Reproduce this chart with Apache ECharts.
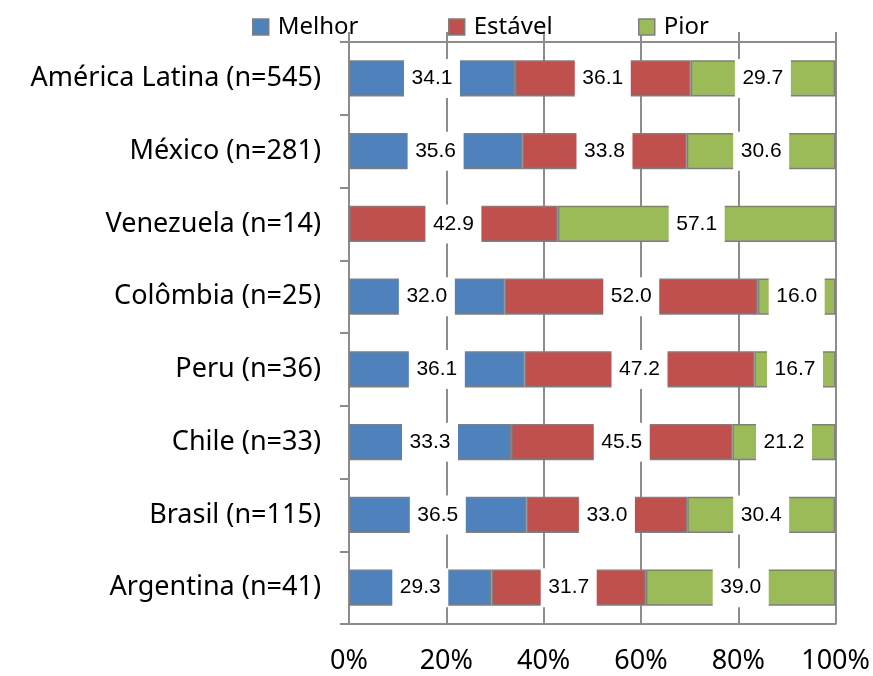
<!DOCTYPE html>
<html>
<head>
<meta charset="utf-8">
<script src="https://cdn.jsdelivr.net/npm/echarts@6/dist/echarts.min.js"></script>
<style>
  html, body { margin: 0; padding: 0; background: #fff; }
  #chart { width: 873px; height: 676px; }
</style>
</head>
<body>
<div id="chart"></div>
<script>
// Percentages per region: better / stable / worse
const categories = [
  'América Latina (n=545)',
  'México (n=281)',
  'Venezuela (n=14)',
  'Colômbia (n=25)',
  'Peru (n=36)',
  'Chile (n=33)',
  'Brasil (n=115)',
  'Argentina (n=41)'
];
const melhor  = [34.1, 35.6, 0,    32.0, 36.1, 33.3, 36.5, 29.3];
const estavel = [36.1, 33.8, 42.9, 52.0, 47.2, 45.5, 33.0, 31.7];
const pior    = [29.7, 30.6, 57.1, 16.0, 16.7, 21.2, 30.4, 39.0];
const seriesNames = ['Melhor', 'Estável', 'Pior'];
const seriesColors = ['#4F81BD', '#C0504D', '#9BBB59'];
const xTicks = [0, 20, 40, 60, 80, 100];

const GRID_GRAY = '#8c8c8c';
const LABEL_FONT = '"Liberation Sans Narrow", "Liberation Sans", sans-serif';
const TEXT_FONT = '"Noto Sans", "Open Sans", sans-serif';

function toItems(arr) {
  return arr.map(v => v === 0 ? { value: v, label: { show: false } } : { value: v });
}

const seriesValues = [melhor, estavel, pior];
const series = seriesNames.map((name, i) => ({
  name,
  type: 'bar',
  stack: 'total',
  barWidth: '50%',
  xAxisIndex: 0,
  data: toItems(seriesValues[i]),
  itemStyle: { color: seriesColors[i], borderColor: '#7f7f7f', borderWidth: 1.5 },
  label: {
    show: true,
    position: 'inside',
    formatter: p => p.value.toFixed(1),
    color: '#000',
    fontFamily: LABEL_FONT,
    fontSize: 21,
    backgroundColor: '#fff',
    width: 56,
    height: 39,
    lineHeight: 39,
    align: 'center',
    verticalAlign: 'middle',
    padding: 0
  },
  emphasis: { disabled: true }
}));

// one legend block per series so each entry sits at its own spot
const legendLefts = [252, 448, 638];
const legends = seriesNames.map((name, i) => ({
  data: [name],
  left: legendLefts[i],
  top: 15,
  padding: 0,
  itemWidth: 16,
  itemHeight: 16,
  itemGap: 5,
  icon: 'rect',
  itemStyle: { borderColor: '#7f7f7f', borderWidth: 1.5 },
  textStyle: { fontFamily: TEXT_FONT, fontSize: 24, color: '#000', padding: [0, 0, 0, 4] },
  selectedMode: false
}));

const chart = echarts.init(document.getElementById('chart'), null, { renderer: 'canvas' });
chart.setOption({
  animation: false,
  backgroundColor: '#fff',
  legend: legends,
  grid: { left: 349, right: 37, top: 42, bottom: 52, containLabel: false },
  xAxis: [
    {
      type: 'value',
      position: 'bottom',
      min: xTicks[0],
      max: xTicks[xTicks.length - 1],
      interval: 20,
      axisLine: { show: true, lineStyle: { color: GRID_GRAY, width: 2 } },
      axisTick: { show: false },
      axisLabel: {
        formatter: v => v + '%',
        color: '#000',
        fontFamily: TEXT_FONT,
        fontSize: 27,
        margin: 24
      },
      splitLine: { show: true, lineStyle: { color: GRID_GRAY, width: 2 } }
    },
    {
      type: 'value',
      position: 'top',
      min: xTicks[0],
      max: xTicks[xTicks.length - 1],
      interval: 20,
      axisLine: { show: true, lineStyle: { color: GRID_GRAY, width: 2 } },
      axisTick: { show: true, length: 10, lineStyle: { color: GRID_GRAY, width: 2 } },
      axisLabel: { show: false },
      splitLine: { show: false }
    }
  ],
  yAxis: {
    type: 'category',
    data: categories,
    inverse: true,
    axisLine: { show: true, lineStyle: { color: GRID_GRAY, width: 2 } },
    axisTick: { show: true, length: 9, lineStyle: { color: GRID_GRAY, width: 2 } },
    axisLabel: {
      color: '#000',
      fontFamily: TEXT_FONT,
      fontSize: 27,
      margin: 28
    },
    splitLine: { show: false }
  },
  series
});
</script>
</body>
</html>
